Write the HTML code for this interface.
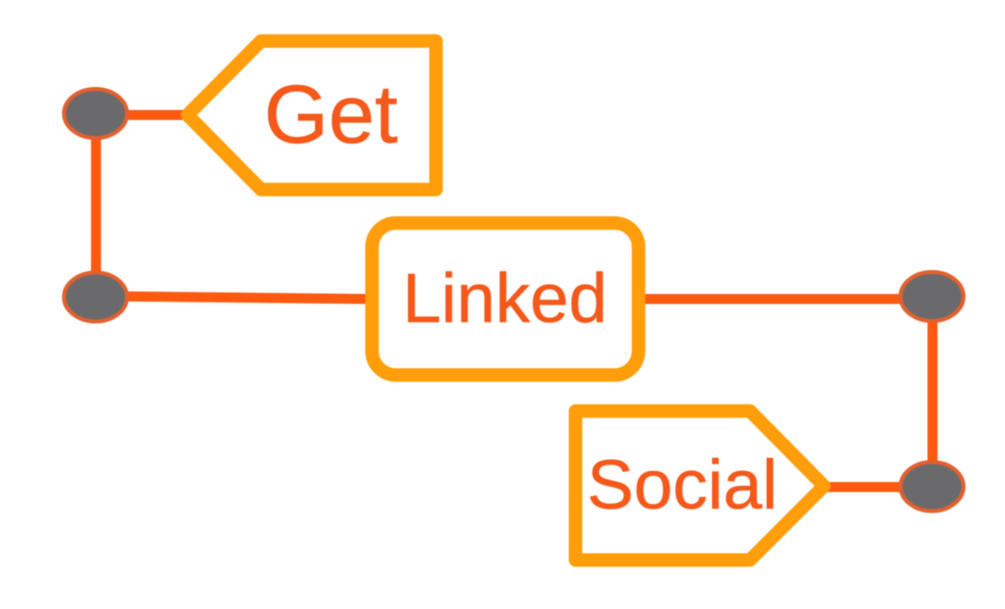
<!DOCTYPE html>
<html>
<head>
<meta charset="utf-8">
<style>
html,body{margin:0;padding:0;background:#fff;width:1005px;height:609px;overflow:hidden}
svg{display:block;filter:blur(0.5px)}
text{font-family:"Liberation Sans",sans-serif;fill:#f4581a;stroke:#f4581a;stroke-width:0.5}
</style>
</head>
<body>
<svg width="1005" height="609" viewBox="0 0 1005 609" xmlns="http://www.w3.org/2000/svg">
<g stroke="#fd5a10" stroke-width="10" fill="none">
<line x1="96" y1="115" x2="190" y2="115"/>
<line x1="96" y1="114" x2="96" y2="296"/>
<line x1="96" y1="296" x2="370" y2="299"/>
<line x1="640" y1="299" x2="932" y2="299"/>
<line x1="932.5" y1="297" x2="932.5" y2="487"/>
<line x1="825" y1="487" x2="932" y2="487"/>
</g>
<g fill="#6a6a6c" stroke="#e2602e" stroke-width="4">
<ellipse cx="95.5" cy="113.5" rx="31.5" ry="24.5"/>
<ellipse cx="95.5" cy="297" rx="31.5" ry="24.5"/>
<ellipse cx="932" cy="296.5" rx="31.5" ry="24.5"/>
<ellipse cx="932" cy="486.5" rx="31.5" ry="24.5"/>
</g>
<g fill="#fff" stroke="#ff9d0a" stroke-width="13.5" stroke-linejoin="round">
<polygon points="436,41 261,41 187.5,115 261,189.5 436,189.5"/>
<rect x="372" y="223" width="266.5" height="152" rx="24" ry="24"/>
<polygon points="575.5,411 750,411 824,486 750,560 575.5,560"/>
</g>
<text x="264" y="142.5" font-size="83">Get</text>
<text x="402.5" y="322" font-size="69.5">Linked</text>
<text x="587" y="508.5" font-size="70">Social</text>
</svg>
</body>
</html>
